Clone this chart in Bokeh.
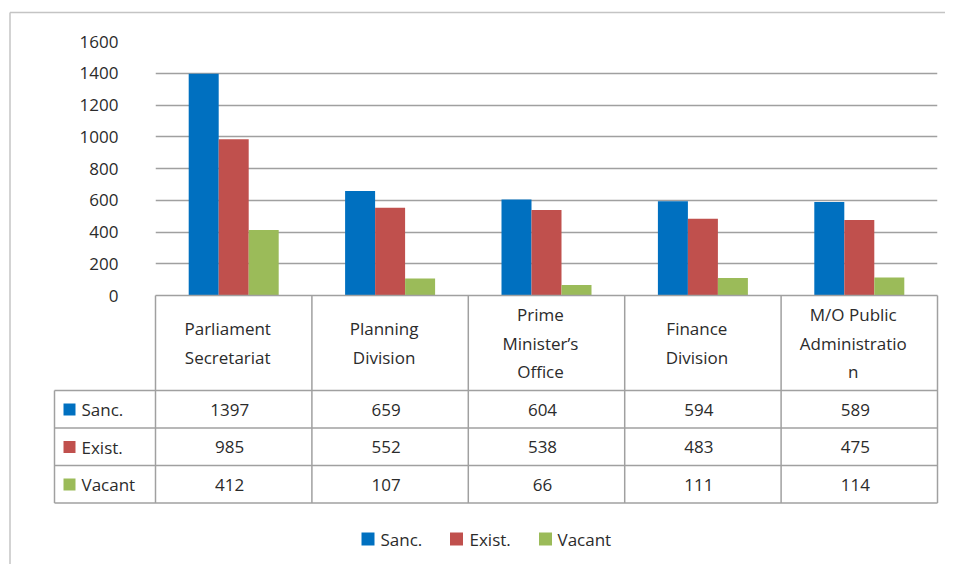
import numpy as np
from bokeh.plotting import figure
from bokeh.models import Range1d, FixedTicker, ColumnDataSource
from bokeh.core.properties import value
from bokeh.transform import dodge
from bokeh.embed import file_html
from bokeh.resources import INLINE

# ---------------- data ----------------
categories = ["Parliament\nSecretariat", "Planning\nDivision", "Prime\nMinister\u2019s\nOffice",
              "Finance\nDivision", "M/O Public\nAdministratio\nn"]
series_names = ["Sanc.", "Exist.", "Vacant"]
sanc = [1397, 659, 604, 594, 589]
exist = [985, 552, 538, 483, 475]
vacant = [412, 107, 66, 111, 114]
y_ticks = [0, 200, 400, 600, 800, 1000, 1200, 1400, 1600]
colors = ["#0070C0", "#C0504D", "#9BBB59"]

# ---------------- layout (page pixels) ----------------
W, H = 945, 564
MARGIN = 0
FL, FR, FT, FB = 155, 937, 41, 295          # frame edges in page px
NCAT = len(categories)
YMAX = y_ticks[-1]
FONT = value("Open Sans")
FS = "17px"
TXT = "#2b2b2b"
GRID = "#a0a0a0"


def px_x(px):
    return (px - FL) / (FR - FL) * NCAT


def px_y(py):
    return (FB - py) / (FB - FT) * YMAX


p = figure(width=W, height=H, output_backend="svg", toolbar_location=None,
           x_range=Range1d(0, NCAT), y_range=Range1d(0, YMAX),
           x_axis_location=None,
           min_border_left=FL - MARGIN, min_border_right=W - (FR - MARGIN),
           min_border_top=FT - MARGIN, min_border_bottom=H - (FB - MARGIN))
p.outline_line_color = None
p.background_fill_color = "white"
p.border_fill_color = "white"

# y axis
p.yaxis.ticker = FixedTicker(ticks=y_ticks)
p.yaxis.axis_line_color = None
p.yaxis.major_tick_line_color = None
p.yaxis.minor_tick_line_color = None
p.yaxis.major_label_standoff = 31
p.yaxis.major_label_text_font = "Open Sans"
p.yaxis.major_label_text_font_size = FS
p.yaxis.major_label_text_color = TXT
p.ygrid.ticker = FixedTicker(ticks=y_ticks)
p.ygrid.grid_line_color = GRID
p.ygrid.grid_line_width = 1.3
p.xgrid.grid_line_color = None

# bars
src = ColumnDataSource(dict(x=list(np.arange(NCAT) + 0.5), sanc=sanc, exist=exist, vacant=vacant))
bw = 30 / ((FR - FL) / NCAT)
renderers = []
for i, (col, c) in enumerate(zip(["sanc", "exist", "vacant"], colors)):
    r = p.vbar(x=dodge("x", (i - 1) * bw, range=p.x_range), top=col, width=bw,
               bottom=0, source=src, fill_color=c, line_color=None)
    renderers.append(r)

# ---------------- data table ----------------
T_LEFT = 54
ROW_Y = [390, 427.5, 465, 502.5]           # header bottom, row separators, bottom
ROW_C = [409, 446.5, 484]                  # row centres
HEAD_C = 342.5
col_edges = [FL + k * (FR - FL) / NCAT for k in range(NCAT + 1)]

x0s, y0s, x1s, y1s = [], [], [], []
x0s.append(px_x(FL)); x1s.append(px_x(FR)); y0s.append(px_y(FB)); y1s.append(px_y(FB))
for yy in ROW_Y:
    x0s.append(px_x(T_LEFT)); x1s.append(px_x(FR)); y0s.append(px_y(yy)); y1s.append(px_y(yy))
x0s.append(px_x(T_LEFT)); x1s.append(px_x(T_LEFT)); y0s.append(px_y(ROW_Y[0])); y1s.append(px_y(ROW_Y[-1]))
for xe in col_edges:
    x0s.append(px_x(xe)); x1s.append(px_x(xe)); y0s.append(px_y(FB)); y1s.append(px_y(ROW_Y[-1]))
p.segment(x0=x0s, y0=y0s, x1=x1s, y1=y1s, line_color=GRID, line_width=1.5, level="overlay")

# header labels
p.text(x=list(np.arange(NCAT) + 0.5), y=[px_y(HEAD_C)] * NCAT, text=categories,
       text_font=FONT, text_font_size=FS, text_color=TXT, text_align="center",
       text_baseline="middle", text_line_height=1.25, x_offset=-6, level="overlay")

# values
for vals, yc in zip([sanc, exist, vacant], ROW_C):
    p.text(x=list(np.arange(NCAT) + 0.5), y=[px_y(yc)] * NCAT, text=[str(v) for v in vals],
           text_font=FONT, text_font_size=FS, text_color=TXT, text_align="center",
           text_baseline="middle", x_offset=-4, level="overlay")


def key_squares(cx_px, cy_px, size, cols):
    # a colour key square drawn as a thick butt-capped segment
    p.segment(x0=[px_x(c - size / 2) for c in cx_px], x1=[px_x(c + size / 2) for c in cx_px],
              y0=[px_y(c) for c in cy_px], y1=[px_y(c) for c in cy_px],
              line_color=cols, line_width=size, line_cap="butt", level="overlay")


# row labels with colour keys
key_squares([69] * 3, ROW_C, 12, colors)
p.text(x=[px_x(81)] * 3, y=[px_y(c) for c in ROW_C], text=series_names,
       text_font=FONT, text_font_size=FS, text_color=TXT, text_align="left",
       text_baseline="middle", level="overlay")

# outer chart border (left and top)
p.segment(x0=[px_x(9.5), px_x(9.5)], y0=[px_y(12), px_y(12)],
          x1=[px_x(980), px_x(9.5)], y1=[px_y(12), px_y(600)],
          line_color="#c4c4c4", line_width=1.5, level="overlay")

# legend (bottom, centred)
LEG_Y = 538.5
LEG_KEY_X = [367.5, 456, 545]
LEG_TXT_X = [380, 469, 557]
key_squares(LEG_KEY_X, [LEG_Y] * 3, 13, colors)
p.text(x=[px_x(v) for v in LEG_TXT_X], y=[px_y(LEG_Y)] * 3, text=series_names,
       text_font=FONT, text_font_size=FS, text_color=TXT, text_align="left",
       text_baseline="middle", level="overlay")

open("out.html", "w").write(file_html(p, INLINE))
